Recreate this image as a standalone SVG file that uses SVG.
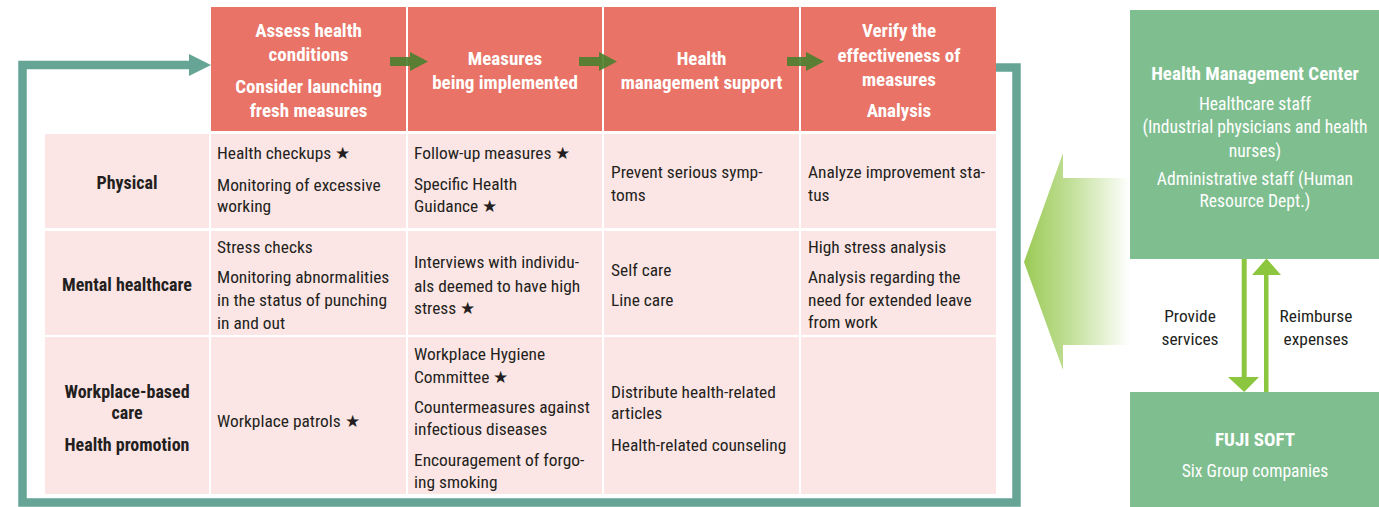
<svg xmlns="http://www.w3.org/2000/svg" width="1379" height="507" viewBox="0 0 1379 507">
<defs>
<style>
text{font-family:"Liberation Sans Narrow","Roboto Condensed","Liberation Sans",sans-serif;font-stretch:condensed;font-size:17.4px;fill:#231F20}
.hd{fill:#fff;font-weight:bold;font-size:19px;text-anchor:middle}
.lb{font-weight:bold;font-size:18px;text-anchor:middle}
.w{fill:#fff;text-anchor:middle;font-size:17.6px}
.wb{fill:#fff;font-weight:bold;text-anchor:middle;font-size:19px}
.c{text-anchor:middle}
.hcell{fill:#E87366}
.bcell{fill:#FCE5E5}
.gbox{fill:#7EBE8F}
.loop{fill:none;stroke:#66A596;stroke-width:8.5}
.step{fill:#4A7F2E;opacity:0.9}
.lg{fill:#8CC63F}
</style>
<linearGradient id="fade" x1="1024" y1="0" x2="1130" y2="0" gradientUnits="userSpaceOnUse">
<stop offset="0" stop-color="#9ACA55"/>
<stop offset="0.45" stop-color="#C3E09A"/>
<stop offset="1" stop-color="#ffffff"/>
</linearGradient>
</defs>

<g id="header-assess">
<rect class="hcell" x="211" y="7" width="195" height="124"/>
<text class="hd" x="308.5" y="37">Assess health</text>
<text class="hd" x="308.5" y="61">conditions</text>
<text class="hd" x="308.5" y="93">Consider launching</text>
<text class="hd" x="308.5" y="117">fresh measures</text>
</g>
<g id="header-measures">
<rect class="hcell" x="408" y="7" width="194" height="124"/>
<text class="hd" x="505" y="65">Measures</text>
<text class="hd" x="505" y="89">being implemented</text>
</g>
<g id="header-support">
<rect class="hcell" x="604" y="7" width="195" height="124"/>
<text class="hd" x="701.5" y="65">Health</text>
<text class="hd" x="701.5" y="89">management support</text>
</g>
<g id="header-verify">
<rect class="hcell" x="801" y="7" width="195" height="124"/>
<text class="hd" x="899" y="37">Verify the</text>
<text class="hd" x="899" y="62">effectiveness of</text>
<text class="hd" x="899" y="86">measures</text>
<text class="hd" x="899" y="117">Analysis</text>
</g>

<g id="row-physical">
<rect class="bcell" x="45" y="134" width="164" height="94"/>
<rect class="bcell" x="211" y="134" width="195" height="94"/>
<rect class="bcell" x="408" y="134" width="194" height="94"/>
<rect class="bcell" x="604" y="134" width="195" height="94"/>
<rect class="bcell" x="801" y="134" width="195" height="94"/>
<text class="lb" x="127" y="189">Physical</text>
<text x="217" y="159">Health checkups ★</text>
<text x="217" y="191">Monitoring of excessive</text>
<text x="217" y="212">working</text>
<text x="414" y="159">Follow-up measures ★</text>
<text x="414" y="190">Specific Health</text>
<text x="414" y="212">Guidance ★</text>
<text x="611" y="178">Prevent serious symp-</text>
<text x="611" y="201">toms</text>
<text x="808" y="178">Analyze improvement sta-</text>
<text x="808" y="201">tus</text>
</g>

<g id="row-mental">
<rect class="bcell" x="45" y="231" width="164" height="104"/>
<rect class="bcell" x="211" y="231" width="195" height="104"/>
<rect class="bcell" x="408" y="231" width="194" height="104"/>
<rect class="bcell" x="604" y="231" width="195" height="104"/>
<rect class="bcell" x="801" y="231" width="195" height="104"/>
<text class="lb" x="127" y="291">Mental healthcare</text>
<text x="217" y="253">Stress checks</text>
<text x="217" y="283">Monitoring abnormalities</text>
<text x="217" y="306">in the status of punching</text>
<text x="217" y="329">in and out</text>
<text x="414" y="268">Interviews with individu-</text>
<text x="414" y="292">als deemed to have high</text>
<text x="414" y="314">stress ★</text>
<text x="611" y="276">Self care</text>
<text x="611" y="306">Line care</text>
<text x="808" y="253">High stress analysis</text>
<text x="808" y="283">Analysis regarding the</text>
<text x="808" y="306">need for extended leave</text>
<text x="808" y="328">from work</text>
</g>

<g id="row-workplace">
<rect class="bcell" x="45" y="337" width="164" height="157"/>
<rect class="bcell" x="211" y="337" width="195" height="157"/>
<rect class="bcell" x="408" y="337" width="194" height="157"/>
<rect class="bcell" x="604" y="337" width="195" height="157"/>
<rect class="bcell" x="801" y="337" width="195" height="157"/>
<text class="lb" x="127" y="398">Workplace-based</text>
<text class="lb" x="127" y="419">care</text>
<text class="lb" x="127" y="451">Health promotion</text>
<text x="217" y="427">Workplace patrols ★</text>
<text x="414" y="360">Workplace Hygiene</text>
<text x="414" y="383">Committee ★</text>
<text x="414" y="413">Countermeasures against</text>
<text x="414" y="435">infectious diseases</text>
<text x="414" y="466">Encouragement of forgo-</text>
<text x="414" y="488">ing smoking</text>
<text x="611" y="398">Distribute health-related</text>
<text x="611" y="419">articles</text>
<text x="611" y="451">Health-related counseling</text>
</g>

<g id="health-management-center">
<rect class="gbox" x="1130" y="10" width="249" height="249"/>
<text class="wb" x="1255" y="80">Health Management Center</text>
<text class="w" x="1255" y="110">Healthcare staff</text>
<text class="w" x="1255" y="133">(Industrial physicians and health</text>
<text class="w" x="1255" y="157">nurses)</text>
<text class="w" x="1255" y="185">Administrative staff (Human</text>
<text class="w" x="1255" y="207">Resource Dept.)</text>
</g>

<g id="fuji-soft">
<rect class="gbox" x="1130" y="392" width="249" height="115"/>
<text class="wb" x="1255" y="446">FUJI SOFT</text>
<text class="w" x="1255" y="477">Six Group companies</text>
</g>

<g id="connectors">
<path class="loop" d="M996 67.5 H1016.5 V502.5 H22.5 V65 H192"/>
<polygon fill="#66A596" points="189,54 211,65 189,76"/>
<path class="step" d="M390 57 H410 V52 L428 61.5 L410 71 V66 H390 Z"/>
<path class="step" d="M579 57 H599 V52 L617 61.5 L599 71 V66 H579 Z"/>
<path class="step" d="M787 57 H806 V52 L824 61.5 L806 71 V66 H787 Z"/>
<polygon fill="url(#fade)" points="1130,178 1063,178 1063,153 1024,262 1063,370 1063,345 1130,345"/>
<path class="lg" d="M1241.7 259 H1246.7 V377 H1259 L1244.2 392 L1228 377 H1241.7 Z"/>
<path class="lg" d="M1264 392 V275 H1252 L1266.5 258.5 L1281 275 H1268.5 V392 Z"/>
<text class="c" x="1190" y="322">Provide</text>
<text class="c" x="1190" y="345">services</text>
<text class="c" x="1316" y="322">Reimburse</text>
<text class="c" x="1316" y="345">expenses</text>
</g>
</svg>
